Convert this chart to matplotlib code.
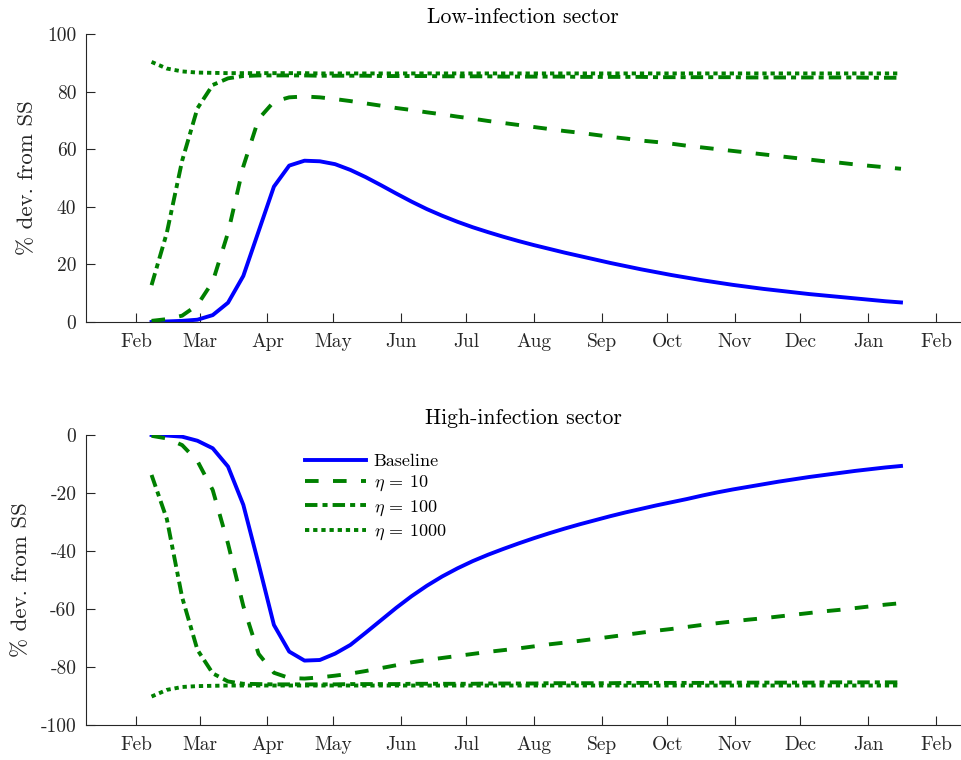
import pandas as pd
import matplotlib
matplotlib.use("Agg")
import matplotlib.pyplot as plt

plt.rcParams['font.family'] = 'cmr10'
plt.rcParams['mathtext.fontset'] = 'cm'
plt.rcParams['axes.formatter.use_mathtext'] = True

# weekly simulation dates
weeks = pd.date_range('2020-02-08', periods=50, freq='7D')
month_ticks = pd.date_range('2020-02-01', '2021-02-01', freq='MS')
month_labels = [d.strftime('%b') for d in month_ticks]

# low-infection sector (% dev. from SS)
low_base = [0.0, 0.2, 0.4, 0.8, 2.4, 6.7, 16.0, 31.5, 47.0, 54.3,
            56.0, 55.8, 54.8, 52.8, 50.3, 47.5, 44.6, 41.8, 39.2, 36.9,
            34.8, 32.9, 31.2, 29.6, 28.1, 26.7, 25.4, 24.1, 22.9, 21.7,
            20.5, 19.4, 18.3, 17.3, 16.3, 15.4, 14.5, 13.7, 12.9, 12.2,
            11.5, 10.9, 10.3, 9.7, 9.2, 8.7, 8.2, 7.7, 7.2, 6.8]
low_eta10 = [0.4, 1.0, 2.2, 5.9, 14.0, 31.0, 54.0, 70.5, 76.5, 78.0,
             78.3, 78.0, 77.4, 76.7, 75.9, 75.1, 74.3, 73.6, 72.8, 72.1,
             71.3, 70.6, 69.8, 69.1, 68.4, 67.7, 67.0, 66.3, 65.7, 65.0,
             64.3, 63.7, 63.0, 62.5, 61.9, 61.2, 60.6, 60.0, 59.4, 58.8,
             58.2, 57.6, 57.0, 56.4, 55.8, 55.3, 54.7, 54.2, 53.7, 53.2]
low_eta100 = [12.8, 31.0, 56.0, 74.2, 82.3, 84.6, 85.4, 85.6, 85.6, 85.6,
              85.6, 85.5, 85.5, 85.5, 85.5, 85.4, 85.4, 85.4, 85.4, 85.3,
              85.3, 85.3, 85.3, 85.2, 85.2, 85.2, 85.2, 85.2, 85.1, 85.1,
              85.1, 85.1, 85.1, 85.0, 85.0, 85.0, 85.0, 85.0, 85.0, 84.9,
              84.9, 84.9, 84.9, 84.9, 84.9, 84.9, 84.9, 84.8, 84.8, 84.8]
low_eta1000 = [90.3, 88.0, 87.0, 86.6, 86.5, 86.4, 86.4, 86.4, 86.4, 86.4,
               86.4, 86.3, 86.3, 86.3, 86.3, 86.3, 86.3, 86.3, 86.3, 86.3,
               86.3, 86.3, 86.3, 86.3, 86.3, 86.3, 86.3, 86.3, 86.3, 86.3,
               86.3, 86.3, 86.3, 86.3, 86.3, 86.3, 86.3, 86.3, 86.3, 86.3,
               86.3, 86.3, 86.3, 86.3, 86.3, 86.3, 86.3, 86.3, 86.3, 86.3]

# high-infection sector (% dev. from SS)
high_base = [0.0, -0.2, -0.6, -2.0, -4.6, -10.9, -24.1, -44.5, -65.5, -74.7,
             -77.8, -77.6, -75.4, -72.4, -68.2, -63.9, -59.6, -55.6, -52.0, -48.8,
             -46.0, -43.5, -41.3, -39.3, -37.4, -35.6, -33.9, -32.3, -30.8, -29.4,
             -28.0, -26.7, -25.5, -24.3, -23.2, -22.1, -20.9, -19.8, -18.8, -17.9,
             -17.0, -16.1, -15.3, -14.5, -13.8, -13.1, -12.4, -11.8, -11.2, -10.7]
high_eta10 = [-0.3, -1.2, -3.5, -9.0, -19.0, -37.5, -59.0, -75.5, -82.0, -83.8,
              -84.0, -83.6, -83.0, -82.3, -81.4, -80.4, -79.4, -78.4, -77.6, -76.9,
              -76.2, -75.5, -74.8, -74.2, -73.6, -72.9, -72.2, -71.6, -71.0, -70.3,
              -69.6, -68.9, -68.2, -67.5, -66.9, -66.2, -65.5, -64.9, -64.3, -63.7,
              -63.2, -62.6, -62.0, -61.4, -60.8, -60.3, -59.7, -59.1, -58.5, -58.0]
high_eta100 = [-13.8, -29.0, -56.0, -74.1, -82.2, -85.0, -85.8, -85.9, -86.0, -86.0,
               -86.0, -86.0, -86.0, -85.9, -85.9, -85.9, -85.9, -85.8, -85.8, -85.8,
               -85.8, -85.8, -85.7, -85.7, -85.7, -85.7, -85.6, -85.6, -85.6, -85.6,
               -85.6, -85.5, -85.5, -85.5, -85.5, -85.5, -85.5, -85.4, -85.4, -85.4,
               -85.4, -85.4, -85.4, -85.4, -85.3, -85.3, -85.3, -85.3, -85.3, -85.3]
high_eta1000 = [-90.2, -87.9, -86.9, -86.6, -86.5, -86.4, -86.4, -86.4, -86.4, -86.4,
                -86.4, -86.4, -86.4, -86.4, -86.4, -86.4, -86.4, -86.4, -86.4, -86.4,
                -86.4, -86.4, -86.4, -86.4, -86.4, -86.4, -86.4, -86.4, -86.4, -86.4,
                -86.4, -86.4, -86.4, -86.4, -86.4, -86.4, -86.4, -86.4, -86.4, -86.4,
                -86.4, -86.4, -86.4, -86.4, -86.4, -86.4, -86.4, -86.4, -86.4, -86.4]

labels = ['Baseline', r'$\eta$ = 10', r'$\eta$ = 100', r'$\eta$ = 1000']

blue = '#0000ff'
green = '#008000'
axcol = '#262626'
lw = 2.8
styles = ['-', (0, (3.5, 3.7)), (0, (3.2, 1.3, 1.3, 1.3)), (0, (1.1, 1.0))]
colors = [blue, green, green, green]


def draw(ax, series, title, ylim, yticks):
    for vals, ls, c, lab in zip(series, styles, colors, labels):
        ax.plot(weeks, vals, color=c, lw=lw, linestyle=ls, label=lab)
    ax.set_xlim(pd.Timestamp('2020-01-09'), pd.Timestamp('2021-02-12'))
    ax.set_ylim(*ylim)
    ax.set_xticks(month_ticks)
    ax.set_xticklabels(month_labels)
    ax.set_yticks(yticks)
    ax.set_yticklabels([str(t) for t in yticks])
    for s in ['top', 'right']:
        ax.spines[s].set_visible(False)
    for s in ['left', 'bottom']:
        ax.spines[s].set_color(axcol)
        ax.spines[s].set_linewidth(0.8)
    ax.tick_params(direction='in', length=6.5, width=0.8, color=axcol,
                   labelcolor=axcol, labelsize=14)
    ax.tick_params(axis='x', pad=8)
    ax.tick_params(axis='y', pad=7)
    ax.set_ylabel('% dev. from SS', fontsize=16.5, color=axcol, labelpad=7)
    ax.set_title(title, fontsize=15.6, color='black', pad=8)


fig = plt.figure(figsize=(9.62, 7.6), dpi=100)
ax1 = fig.add_axes([0.0894, 0.5763, 0.9085, 0.3790])
ax2 = fig.add_axes([0.0894, 0.0461, 0.9085, 0.3816])

draw(ax1, [low_base, low_eta10, low_eta100, low_eta1000],
     'Low-infection sector', (0, 100), [0, 20, 40, 60, 80, 100])
draw(ax2, [high_base, high_eta10, high_eta100, high_eta1000],
     'High-infection sector', (-100, 0), [-100, -80, -60, -40, -20, 0])

ax2.legend(loc='upper left', bbox_to_anchor=(0.2506, 0.936), frameon=False,
           fontsize=13, handlelength=3.4, handletextpad=0.4, labelspacing=0.27,
           borderpad=0, borderaxespad=0)

fig.savefig('out.png', dpi=100)
